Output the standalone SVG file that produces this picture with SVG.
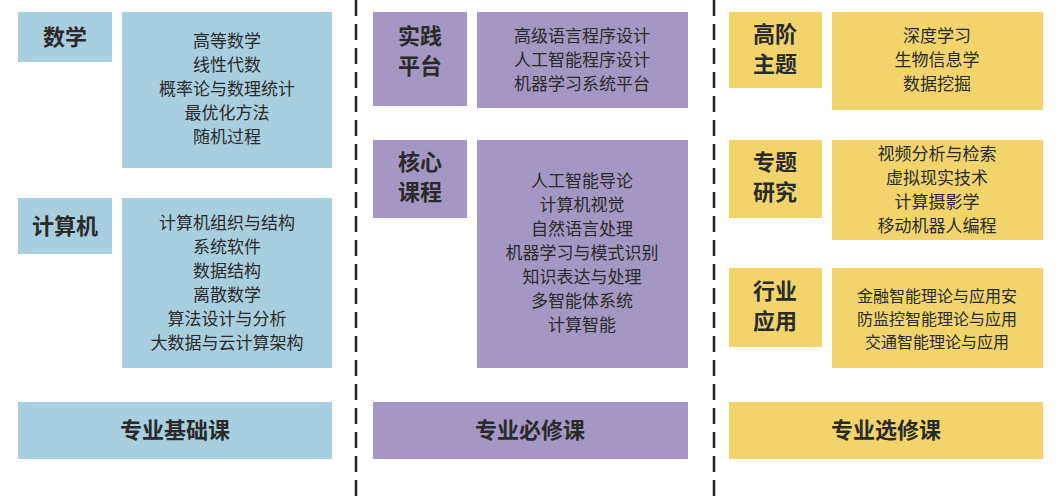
<svg xmlns="http://www.w3.org/2000/svg" width="1058" height="500" viewBox="0 0 1058 500">
<style>
.b{fill:#a8cfdf}.p{fill:#a497c3}.y{fill:#f1d56c}
text{font-family:"Noto Sans CJK SC","Noto Sans",sans-serif;fill:#2a2a2a;text-anchor:middle}
.h{font-size:22px;font-weight:bold}
.c{font-size:17px}
.d{stroke:#222;stroke-width:2.5;stroke-dasharray:16 8;fill:none}
</style>
<rect width="1058" height="500" fill="#fff"/>
<g id="connectors"><line class="d" x1="356" y1="0" x2="356" y2="500"/><line class="d" x1="714" y1="0" x2="714" y2="500"/></g>
<g id="n-math"><rect class="b" x="18" y="12" width="94" height="50"/><text class="h" x="65" y="45">数学</text></g>
<g id="n-math-c"><rect class="b" x="122" y="12" width="210" height="156"/><text class="c" x="227"><tspan x="227" y="47">高等数学</tspan><tspan x="227" y="71">线性代数</tspan><tspan x="227" y="95">概率论与数理统计</tspan><tspan x="227" y="119">最优化方法</tspan><tspan x="227" y="143">随机过程</tspan></text></g>
<g id="n-cs"><rect class="b" x="18" y="198" width="94" height="56"/><text class="h" x="65" y="234">计算机</text></g>
<g id="n-cs-c"><rect class="b" x="122" y="198" width="210" height="170"/><text class="c"><tspan x="227" y="229">计算机组织与结构</tspan><tspan x="227" y="253">系统软件</tspan><tspan x="227" y="277">数据结构</tspan><tspan x="227" y="301">离散数学</tspan><tspan x="227" y="325">算法设计与分析</tspan><tspan x="227" y="349">大数据与云计算架构</tspan></text></g>
<g id="n-base"><rect class="b" x="18" y="402" width="314" height="57"/><text class="h" x="175" y="438">专业基础课</text></g>
<g id="n-prac"><rect class="p" x="373" y="12" width="94" height="94"/><text class="h"><tspan x="420" y="44">实践</tspan><tspan x="420" y="74">平台</tspan></text></g>
<g id="n-prac-c"><rect class="p" x="477" y="12" width="211" height="96"/><text class="c"><tspan x="582" y="42">高级语言程序设计</tspan><tspan x="582" y="66">人工智能程序设计</tspan><tspan x="582" y="90">机器学习系统平台</tspan></text></g>
<g id="n-core"><rect class="p" x="373" y="140" width="94" height="78"/><text class="h"><tspan x="420" y="170">核心</tspan><tspan x="420" y="200">课程</tspan></text></g>
<g id="n-core-c"><rect class="p" x="477" y="140" width="211" height="228"/><text class="c"><tspan x="582" y="187">人工智能导论</tspan><tspan x="582" y="211">计算机视觉</tspan><tspan x="582" y="235">自然语言处理</tspan><tspan x="582" y="259">机器学习与模式识别</tspan><tspan x="582" y="283">知识表达与处理</tspan><tspan x="582" y="307">多智能体系统</tspan><tspan x="582" y="331">计算智能</tspan></text></g>
<g id="n-req"><rect class="p" x="373" y="402" width="315" height="57"/><text class="h" x="530" y="438">专业必修课</text></g>
<g id="n-adv"><rect class="y" x="729" y="12" width="93" height="76"/><text class="h"><tspan x="775" y="42">高阶</tspan><tspan x="775" y="72">主题</tspan></text></g>
<g id="n-adv-c"><rect class="y" x="832" y="12" width="211" height="98"/><text class="c"><tspan x="937" y="42">深度学习</tspan><tspan x="937" y="66">生物信息学</tspan><tspan x="937" y="90">数据挖掘</tspan></text></g>
<g id="n-topic"><rect class="y" x="729" y="140" width="93" height="78"/><text class="h"><tspan x="775" y="170">专题</tspan><tspan x="775" y="200">研究</tspan></text></g>
<g id="n-topic-c"><rect class="y" x="832" y="140" width="211" height="100"/><text class="c"><tspan x="937" y="160">视频分析与检索</tspan><tspan x="937" y="184">虚拟现实技术</tspan><tspan x="937" y="208">计算摄影学</tspan><tspan x="937" y="232">移动机器人编程</tspan></text></g>
<g id="n-ind"><rect class="y" x="729" y="268" width="93" height="79"/><text class="h"><tspan x="775" y="299">行业</tspan><tspan x="775" y="329">应用</tspan></text></g>
<g id="n-ind-c"><rect class="y" x="832" y="268" width="211" height="100"/><text class="c" style="font-size:16px"><tspan x="937" y="302">金融智能理论与应用安</tspan><tspan x="937" y="325">防监控智能理论与应用</tspan><tspan x="937" y="348">交通智能理论与应用</tspan></text></g>
<g id="n-elec"><rect class="y" x="729" y="402" width="314" height="57"/><text class="h" x="886" y="438">专业选修课</text></g>
</svg>
